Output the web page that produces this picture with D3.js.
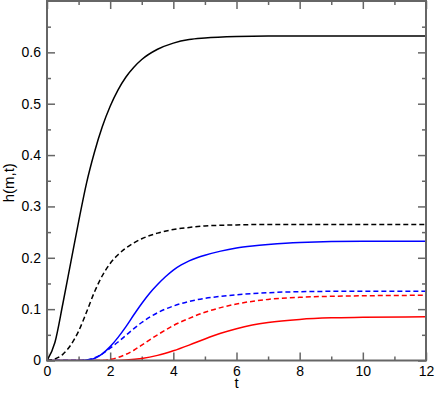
<!DOCTYPE html>
<html>
<head>
<meta charset="utf-8">
<script src="https://cdn.jsdelivr.net/npm/d3@7"></script>
<style>
body { margin: 0; background: #fff; }
text { font-family: "Liberation Sans", Arial, sans-serif; }
</style>
</head>
<body>
<script>
// valeurs
var blackSolidT = [0, 0.25, 0.5, 0.75, 1, 1.25, 1.5, 1.75, 2, 2.25, 2.5, 2.75, 3, 3.5, 4, 4.5, 5, 6, 7, 8, 10, 12];
var blackSolidV = [0, 0.035, 0.11, 0.19, 0.27, 0.345, 0.405, 0.455, 0.495, 0.527, 0.552, 0.571, 0.586, 0.606, 0.618, 0.625, 0.628, 0.631, 0.632, 0.632, 0.632, 0.632];

var blackDashT = [0, 0.25, 0.5, 0.75, 1, 1.25, 1.5, 1.75, 2, 2.25, 2.5, 2.75, 3, 3.5, 4, 4.5, 5, 6, 7, 8, 10, 12];
var blackDashV = [0, 0.003, 0.012, 0.03, 0.057, 0.094, 0.133, 0.165, 0.189, 0.206, 0.219, 0.229, 0.237, 0.248, 0.255, 0.259, 0.262, 0.264, 0.265, 0.265, 0.265, 0.265];

var blueSolidT = [0, 1, 1.25, 1.5, 1.75, 2, 2.25, 2.5, 2.75, 3, 3.25, 3.5, 3.75, 4, 4.25, 4.5, 4.75, 5, 5.5, 6, 6.5, 7, 8, 10, 12];
var blueSolidV = [0, 0, 0.001, 0.004, 0.013, 0.027, 0.045, 0.066, 0.089, 0.111, 0.131, 0.148, 0.163, 0.176, 0.186, 0.194, 0.2, 0.205, 0.213, 0.219, 0.223, 0.226, 0.23, 0.232, 0.232];

var blueDashT = [0, 1, 1.25, 1.5, 1.75, 2, 2.25, 2.5, 2.75, 3, 3.5, 4, 4.5, 5, 5.5, 6, 7, 8, 10, 12];
var blueDashV = [0, 0, 0.001, 0.005, 0.013, 0.024, 0.036, 0.049, 0.062, 0.074, 0.093, 0.106, 0.115, 0.121, 0.125, 0.128, 0.132, 0.134, 0.135, 0.135];

var redDashT = [0, 1.75, 2, 2.25, 2.5, 2.75, 3, 3.5, 4, 4.5, 5, 5.5, 6, 7, 8, 9, 10, 12];
var redDashV = [0, 0, 0.002, 0.006, 0.012, 0.02, 0.03, 0.05, 0.068, 0.082, 0.094, 0.103, 0.11, 0.119, 0.123, 0.125, 0.126, 0.127];

var redSolidT = [0, 2, 2.5, 3, 3.5, 4, 4.5, 5, 5.5, 6, 6.5, 7, 8, 9, 10, 12];
var redSolidV = [0, 0, 0.001, 0.004, 0.01, 0.019, 0.03, 0.042, 0.053, 0.062, 0.069, 0.074, 0.08, 0.083, 0.084, 0.085];

var xMajor = [0, 2, 4, 6, 8, 10, 12];
var xMinor = [1, 3, 5, 7, 9, 11];
var yMajor = [0, 0.1, 0.2, 0.3, 0.4, 0.5, 0.6];
var yMinor = [0.05, 0.15, 0.25, 0.35, 0.45, 0.55, 0.65];

var width = 436, height = 394;
var mLeft = 47, mRight = 426, mTop = 1, mBottom = 360.5;

var svg = d3.select("body").append("svg")
	.attr("width", width)
	.attr("height", height);

var x = d3.scaleLinear().domain([0, 12]).range([mLeft, mRight]);
var y = d3.scaleLinear().domain([0, 0.7]).range([mBottom, mTop]);

var frameCol = "#666";

//fonction pour les axes avec ticks vers l'interieur
function drawAxis(axisFn, scale, vals, size, labels, tr, fmt)
{
	var g = svg.append("g")
		.attr("transform", tr)
		.call(axisFn(scale).tickValues(vals).tickSize(-size).tickPadding(6)
			.tickFormat(labels ? fmt : ""));
	g.select(".domain").remove();
	g.selectAll(".tick line").attr("stroke", frameCol).attr("stroke-width", 1.5);
	g.selectAll(".tick text").attr("fill", "#000").style("font-size", "14px")
		.style("font-family", "'Liberation Sans', Arial, sans-serif");
	return g;
}

var fy = function(d) { return d === 0 ? "0" : d.toFixed(1); };
var fx = function(d) { return d; };

drawAxis(d3.axisBottom, x, xMajor, 8, true, "translate(0," + mBottom + ")", fx);
drawAxis(d3.axisBottom, x, xMinor, 4, false, "translate(0," + mBottom + ")", fx);
drawAxis(d3.axisTop, x, xMajor, 8, false, "translate(0," + mTop + ")", fx);
drawAxis(d3.axisTop, x, xMinor, 4, false, "translate(0," + mTop + ")", fx);
drawAxis(d3.axisLeft, y, yMajor, 8, true, "translate(" + mLeft + ",0)", fy);
drawAxis(d3.axisLeft, y, yMinor, 4, false, "translate(" + mLeft + ",0)", fy);
drawAxis(d3.axisRight, y, yMajor, 8, false, "translate(" + mRight + ",0)", fy);
drawAxis(d3.axisRight, y, yMinor, 4, false, "translate(" + mRight + ",0)", fy);

svg.append("clipPath").attr("id", "clip")
	.append("rect").attr("x", mLeft).attr("y", mTop)
	.attr("width", mRight - mLeft).attr("height", mBottom - mTop);

var line = d3.line()
	.x(function(d) { return x(d[0]); })
	.y(function(d) { return y(d[1]); })
	.curve(d3.curveMonotoneX);

var series = [
	{t: redSolidT, v: redSolidV, c: "#ff0000", dash: null},
	{t: redDashT, v: redDashV, c: "#ff0000", dash: "5,3"},
	{t: blueDashT, v: blueDashV, c: "#0000ff", dash: "5,3"},
	{t: blueSolidT, v: blueSolidV, c: "#0000ff", dash: null},
	{t: blackDashT, v: blackDashV, c: "#000", dash: "5,3"},
	{t: blackSolidT, v: blackSolidV, c: "#000", dash: null}
];

svg.append("g").attr("clip-path", "url(#clip)")
	.selectAll("path")
	.data(series)
	.enter().append("path")
	.attr("d", function(s) { return line(d3.zip(s.t, s.v)); })
	.attr("fill", "none")
	.attr("stroke", function(s) { return s.c; })
	.attr("stroke-width", 1.5)
	.attr("stroke-dasharray", function(s) { return s.dash; });

//cadre
svg.append("rect")
	.attr("x", mLeft).attr("y", mTop)
	.attr("width", mRight - mLeft).attr("height", mBottom - mTop)
	.attr("fill", "none")
	.attr("stroke", frameCol)
	.attr("stroke-width", 2);

svg.append("text")
	.attr("x", (mLeft + mRight) / 2).attr("y", 388)
	.attr("text-anchor", "middle")
	.style("font-size", "15px")
	.text("t");

svg.append("text")
	.attr("transform", "translate(14," + ((mTop + mBottom) / 2 + 2) + ") rotate(-90)")
	.attr("text-anchor", "middle")
	.style("font-size", "15px")
	.text("h(m,t)");
</script>
</body>
</html>
